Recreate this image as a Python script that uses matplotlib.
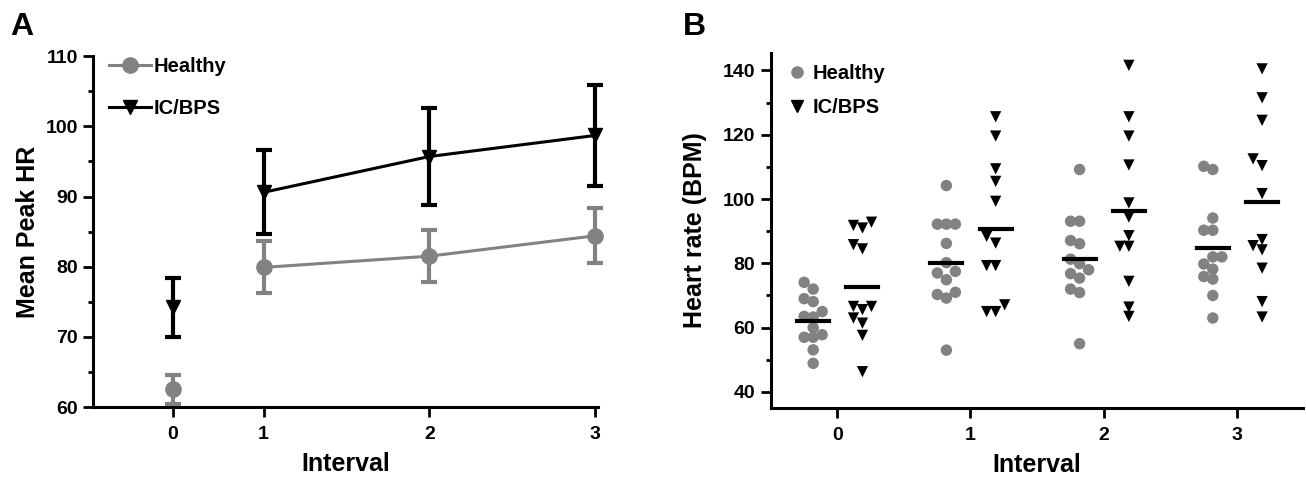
import numpy as np
import matplotlib.pyplot as plt
from matplotlib.ticker import MultipleLocator
from matplotlib.lines import Line2D

plt.rcParams['font.family'] = ['Liberation Sans', 'DejaVu Sans']
plt.rcParams['font.weight'] = 'bold'

cinza = "#828282"

# painel A: media +/- erro padrao
intervalos = ["0", "1", "2", "3"]
pos_a = [0.45, 1, 2, 3]
media_sadio = [62.5, 79.9, 81.5, 84.4]
erro_sadio = [2.1, 3.7, 3.7, 3.9]
media_ic = [74.2, 90.6, 95.7, 98.7]
erro_ic = [4.2, 6.0, 6.9, 7.2]

# painel B: valores individuais (BPM)
sadio_0 = [74.1, 72.0, 69.0, 68.1, 65.0, 63.5, 63.3, 60.0, 57.8, 57.0, 57.0, 53.1, 48.9]
sadio_1 = [104.2, 92.2, 92.2, 92.2, 86.2, 80.2, 77.5, 77.0, 74.9, 71.0, 70.3, 69.2, 53.0]
sadio_2 = [109.2, 93.1, 93.1, 87.1, 86.1, 81.3, 79.9, 78.0, 76.8, 75.4, 72.0, 70.9, 55.0]
sadio_3 = [110.2, 109.2, 94.1, 90.3, 90.3, 82.0, 82.0, 79.8, 78.2, 75.9, 75.1, 70.0, 63.0]
ic_0 = [92.8, 91.0, 91.8, 85.8, 84.5, 66.6, 66.6, 65.6, 63.0, 61.4, 57.6, 46.3]
ic_1 = [125.6, 119.6, 109.4, 105.5, 99.3, 88.4, 86.3, 79.3, 79.3, 67.1, 65.0, 65.0]
ic_2 = [141.6, 125.6, 119.6, 110.6, 98.8, 94.4, 88.6, 85.3, 85.3, 74.4, 66.4, 63.5]
ic_3 = [140.5, 131.5, 124.5, 112.5, 110.4, 101.7, 87.4, 85.5, 84.2, 78.5, 68.1, 63.3]

sadio_b = [sadio_0, sadio_1, sadio_2, sadio_3]
ic_b = [ic_0, ic_1, ic_2, ic_3]


def enxame(vals, centro, passo_px=9.0, diam_px=9.0, px_x=133.0, px_y=3.21):
    # espalha os pontos em colunas (estilo graphpad) sem sobrepor demais
    vals = np.asarray(vals, dtype=float)
    xs = np.zeros(len(vals))
    colocados = []
    for i in np.argsort(vals):
        v = vals[i]
        for k in [0, -1, 1, -2, 2, -3, 3]:
            livre = True
            for kk, vv in colocados:
                dx = (k - kk) * passo_px
                dy = (v - vv) * px_y
                if dx * dx + dy * dy < diam_px * diam_px - 0.01:
                    livre = False
                    break
            if livre:
                break
        colocados.append((k, v))
        xs[i] = centro + k * passo_px / px_x
    return xs


def estilo_eixo(ax):
    ax.spines['top'].set_visible(False)
    ax.spines['right'].set_visible(False)
    ax.spines['left'].set_linewidth(2.2)
    ax.spines['bottom'].set_linewidth(2.2)
    ax.tick_params(which='major', length=7, width=2, labelsize=14, pad=4)
    ax.tick_params(which='minor', length=3.5, width=2)
    ax.tick_params(axis='x', pad=7)


fig = plt.figure(figsize=(13.06, 4.8), dpi=100)

#region painel A
axA = fig.add_axes([0.0712, 0.152, 0.387, 0.731])
estilo_eixo(axA)

axA.plot(pos_a[1:], media_sadio[1:], color=cinza, lw=2.2, zorder=2)
axA.errorbar(pos_a, media_sadio, yerr=erro_sadio, fmt='o', color=cinza, ms=11,
             elinewidth=3, capsize=6, capthick=3, clip_on=False, zorder=3)
axA.plot(pos_a[1:], media_ic[1:], color='black', lw=2.2, zorder=4)
axA.errorbar(pos_a, media_ic, yerr=erro_ic, fmt='v', color='black', ms=9.5,
             elinewidth=3, capsize=6, capthick=3, clip_on=False, zorder=5)

axA.set_xlim(-0.03, 3.02)
axA.set_ylim(60, 110)
axA.set_xticks(pos_a)
axA.set_xticklabels(intervalos)
axA.yaxis.set_major_locator(MultipleLocator(10))
axA.yaxis.set_minor_locator(MultipleLocator(5))
axA.set_xlabel("Interval", fontsize=18, fontweight='bold', labelpad=6)
axA.set_ylabel("Mean Peak HR", fontsize=18, fontweight='bold', labelpad=4)

legA = [Line2D([], [], color=cinza, lw=2.2, marker='o', ms=11),
        Line2D([], [], color='black', lw=2.2, marker='v', ms=9.5)]
axA.legend(legA, ["Healthy", "IC/BPS"], loc='upper left', bbox_to_anchor=(-0.005, 1.05),
           frameon=False, handlelength=2.1, handletextpad=0.15,
           labelspacing=1.15, prop={'weight': 'bold', 'size': 14.5})
#endregion

#region painel B
axB = fig.add_axes([0.590, 0.15, 0.408, 0.74])
estilo_eixo(axB)

for i in range(4):
    xs = enxame(sadio_b[i], i - 0.18)
    axB.scatter(xs, sadio_b[i], s=68, color=cinza, edgecolors='none', zorder=2)
    xs = enxame(ic_b[i], i + 0.19)
    axB.scatter(xs, ic_b[i], s=66, marker='v', color='black', edgecolors='none', zorder=2)
    axB.plot([i - 0.30, i - 0.06], [np.mean(sadio_b[i])] * 2, color='black', lw=3, zorder=3)
    axB.plot([i + 0.07, i + 0.31], [np.mean(ic_b[i])] * 2, color='black', lw=3, zorder=3)

axB.set_xlim(-0.5, 3.5)
axB.set_ylim(35, 145.5)
axB.set_xticks(range(4))
axB.set_xticklabels(intervalos)
axB.yaxis.set_major_locator(MultipleLocator(20))
axB.yaxis.set_minor_locator(MultipleLocator(10))
axB.set_xlabel("Interval", fontsize=18, fontweight='bold', labelpad=6)
axB.set_ylabel("Heart rate (BPM)", fontsize=18, fontweight='bold', labelpad=11)

legB = [Line2D([], [], color=cinza, lw=0, marker='o', ms=8),
        Line2D([], [], color='black', lw=0, marker='v', ms=8)]
axB.legend(legB, ["Healthy", "IC/BPS"], loc='upper left', bbox_to_anchor=(0.0, 1.02),
           frameon=False, handlelength=0.8, handletextpad=0.4,
           labelspacing=0.75, prop={'weight': 'bold', 'size': 14.5})
#endregion

fig.text(0.008, 0.975, "A", fontsize=23, fontweight='bold', va='top')
fig.text(0.523, 0.975, "B", fontsize=23, fontweight='bold', va='top')

plt.savefig("out.png", dpi=100)
